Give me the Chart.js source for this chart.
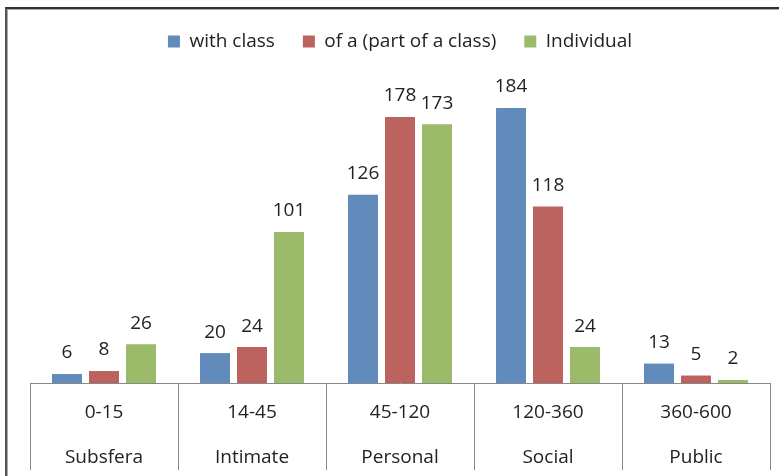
<!DOCTYPE html>
<html>
<head>
    <title>Proxemic zones</title>
    <script src="https://cdn.jsdelivr.net/npm/chart.js"></script>
    <style>
        html, body { margin: 0; padding: 0; background: #fff; }
        .frame {
            position: absolute;
            left: 5px; top: 7px;
            width: 780px; height: 480px;
            border-top: 2px solid #333;
            border-left: 2px solid #555;
            box-shadow: inset 1px 1px 0 #aaa;
        }
        .chart-box { position: absolute; left: 0; top: 0; width: 779px; height: 476px; }
    </style>
</head>
<body>
<div class="frame"></div>
<div class="chart-box"><canvas id="chart"></canvas></div>
<script>
    const ranges = ['0-15', '14-45', '45-120', '120-360', '360-600'];
    const zones = ['Subsfera', 'Intimate', 'Personal', 'Social', 'Public'];
    const withClass = [6, 20, 126, 184, 13];
    const partOfClass = [8, 24, 178, 118, 5];
    const individual = [26, 101, 173, 24, 2];

    const FONT = '"Open Sans", sans-serif';

    // Write the value above every bar
    const valueLabels = {
        id: 'valueLabels',
        afterDatasetsDraw(chart) {
            const ctx = chart.ctx;
            ctx.save();
            ctx.font = '19px ' + FONT;
            ctx.fillStyle = '#222';
            ctx.textAlign = 'center';
            ctx.textBaseline = 'middle';
            chart.data.datasets.forEach((ds, i) => {
                chart.getDatasetMeta(i).data.forEach((bar, j) => {
                    ctx.fillText(ds.data[j], bar.x, bar.y - 21);
                });
            });
            ctx.restore();
        }
    };

    new Chart(document.getElementById('chart'), {
        type: 'bar',
        data: {
            labels: ranges.map((r, i) => [r, zones[i]]),
            datasets: [
                { label: 'with class', data: withClass, backgroundColor: '#608BBB' },
                { label: 'of a (part of a class)', data: partOfClass, backgroundColor: '#BC625F' },
                { label: 'Individual', data: individual, backgroundColor: '#9BBA6A' }
            ]
        },
        options: {
            responsive: true,
            maintainAspectRatio: false,
            animation: false,
            datasets: {
                bar: { categoryPercentage: 0.75, barPercentage: 0.81 }
            },
            layout: {
                padding: { left: 30, right: 9, top: 4, bottom: 0 }
            },
            plugins: {
                tooltip: { enabled: false },
                legend: {
                    position: 'top',
                    labels: {
                        boxWidth: 12,
                        boxHeight: 12,
                        padding: 28,
                        color: '#222',
                        font: { family: FONT, size: 19 }
                    }
                }
            },
            scales: {
                x: {
                    afterFit: (axis) => { axis.height = 93; },
                    border: { color: '#888', width: 1 },
                    grid: {
                        offset: true,
                        drawOnChartArea: false,
                        drawTicks: true,
                        tickLength: 87,
                        color: '#888'
                    },
                    ticks: {
                        padding: -79,
                        color: '#222',
                        font: { family: FONT, size: 19, lineHeight: 2.32 }
                    }
                },
                // empty strip between legend and bars
                gap: {
                    type: 'category',
                    position: 'top',
                    afterFit: (axis) => { axis.height = 23; },
                    grid: { display: false },
                    border: { display: false },
                    ticks: { display: false }
                },
                y: {
                    display: false,
                    min: 0,
                    max: 200
                }
            }
        },
        plugins: [valueLabels]
    });
</script>
</body>
</html>
